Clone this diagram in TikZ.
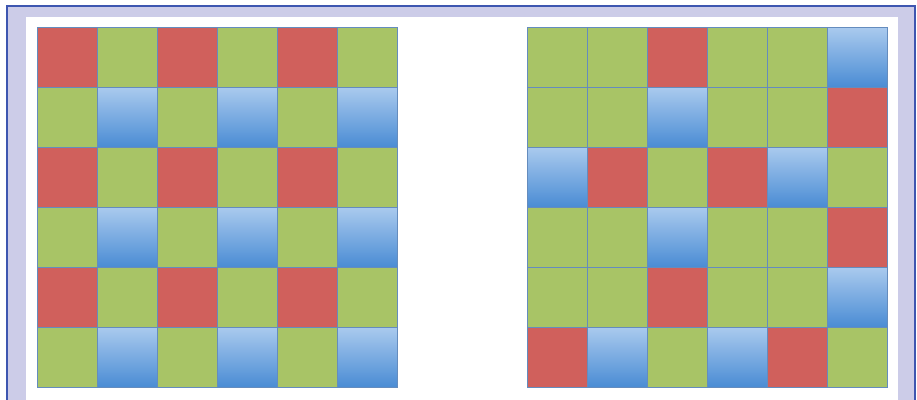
\documentclass[tikz,border=0pt]{standalone}
\usetikzlibrary{calc}
\definecolor{frameblue}{RGB}{61,86,176}
\definecolor{lav}{RGB}{204,204,232}
\definecolor{cred}{RGB}{208,96,92}
\definecolor{cgreen}{RGB}{168,196,102}
\definecolor{cbluetop}{RGB}{170,202,238}
\definecolor{cbluebot}{RGB}{74,140,212}
\definecolor{cedge}{RGB}{100,140,190}
\tikzset{
  cell/.style={minimum width=60pt, minimum height=60pt, inner sep=0pt, outer sep=0pt, draw=cedge, line width=0.9pt},
  R/.style={cell, fill=cred},
  G/.style={cell, fill=cgreen},
  B/.style={cell, top color=cbluetop, bottom color=cbluebot},
}
\begin{document}
\begin{tikzpicture}[x=1pt,y=-1pt]
\useasboundingbox (0,0) rectangle (917,399);
\begin{scope}
\clip (0,0) rectangle (917,399);
\fill[white] (0,0) rectangle (917,399);
\draw[frameblue, line width=2.5pt, fill=lav] (7,6) rectangle (915,430);
\fill[white] (26,17) rectangle (898,430);
\end{scope}
% left grid
\foreach \row [count=\r from 0] in {{R,G,R,G,R,G},{G,B,G,B,G,B},{R,G,R,G,R,G},{G,B,G,B,G,B},{R,G,R,G,R,G},{G,B,G,B,G,B}}{
  \foreach \c [count=\k from 0] in \row {
    \node[\c] (L\r\k) at ({37+30+60*\k},{27+30+60*\r}) {};
  }
}
% right grid
\foreach \row [count=\r from 0] in {{G,G,R,G,G,B},{G,G,B,G,G,R},{B,R,G,R,B,G},{G,G,B,G,G,R},{G,G,R,G,G,B},{R,B,G,B,R,G}}{
  \foreach \c [count=\k from 0] in \row {
    \node[\c] (Q\r\k) at ({527+30+60*\k},{27+30+60*\r}) {};
  }
}
\end{tikzpicture}
\end{document}
